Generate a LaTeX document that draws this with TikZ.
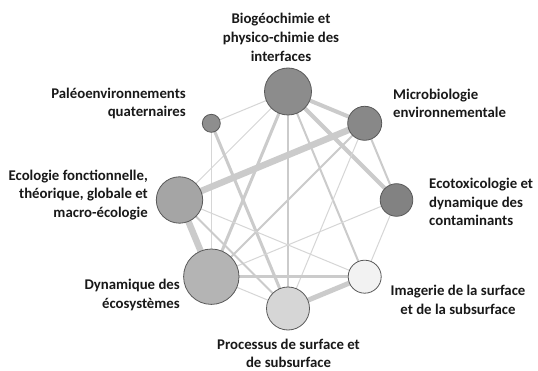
\documentclass[tikz,border=0pt]{standalone}
\usepackage{fontspec}
\setmainfont{Carlito}
\begin{document}
\begin{tikzpicture}[x=1pt,y=-1pt,
  disc/.style={circle, draw=black!65, line width=0.8pt, inner sep=0pt},
  lbl/.style={font=\bfseries\fontsize{14.8}{18.7}\selectfont, text=black!90, inner sep=0pt},
  link/.style={draw=linkgray, line cap=butt},
  w1/.style={link, line width=1pt, draw=linklight},
  w2/.style={link, line width=2pt},
  w3/.style={link, line width=3pt},
  w4/.style={link, line width=4pt},
  w5/.style={link, line width=5pt},
  w6/.style={link, line width=6.5pt}]
\definecolor{linkgray}{HTML}{CBCBCB}
\definecolor{linklight}{HTML}{D6D6D6}
\definecolor{cB}{HTML}{8C8C8C}
\definecolor{cM}{HTML}{888888}
\definecolor{cT}{HTML}{828282}
\definecolor{cP}{HTML}{8E8E8E}
\definecolor{cF}{HTML}{A5A5A5}
\definecolor{cD}{HTML}{B4B4B4}
\definecolor{cS}{HTML}{D6D6D6}
\definecolor{cI}{HTML}{F2F2F2}
\useasboundingbox (0,0) rectangle (538,371);
\fill[white] (0,0) rectangle (538,371);
% centres
\coordinate (pB) at (288,91.5);
\coordinate (pM) at (364.7,123.3);
\coordinate (pT) at (396.5,200);
\coordinate (pI) at (364.7,276.7);
\coordinate (pS) at (288,308.5);
\coordinate (pD) at (211.3,276.7);
\coordinate (pF) at (179.5,200);
\coordinate (pP) at (211.3,123.3);
% links
\draw[w1] (pB) -- (pP);
\draw[w4] (pB) -- (pM);
\draw[w4] (pB) -- (pT);
\draw[w1] (pB) -- (pF);
\draw[w3] (pB) -- (pD);
\draw[w2] (pB) -- (pS);
\draw[w2] (pB) -- (pI);
\draw[w1] (pP) -- (pD);
\draw[w3] (pP) -- (pS);
\draw[w6] (pM) -- (pF);
\draw[w2] (pM) -- (pD);
\draw[w2] (pM) -- (pT);
\draw[w1] (pM) -- (pS);
\draw[w1] (pT) -- (pD);
\draw[w1] (pT) -- (pI);
\draw[w6] (pF) -- (pD);
\draw[w2] (pF) -- (pS);
\draw[w1] (pF) -- (pI);
\draw[w3] (pD) -- (pI);
\draw[w1] (pD) -- (pS);
\draw[w5] (pS) -- (pI);
% discs
\node[disc, fill=cB, minimum size=47pt] (B) at (pB) {};
\node[disc, fill=cM, minimum size=34pt] (M) at (pM) {};
\node[disc, fill=cT, minimum size=32.6pt] (T) at (pT) {};
\node[disc, fill=cI, minimum size=33pt] (I) at (pI) {};
\node[disc, fill=cS, minimum size=43pt] (S) at (pS) {};
\node[disc, fill=cD, minimum size=55.4pt] (D) at (pD) {};
\node[disc, fill=cF, minimum size=46.4pt] (F) at (pF) {};
\node[disc, fill=cP, minimum size=18pt] (P) at (pP) {};
% labels
\node[lbl, align=center] (lB) at (281,37.5) {Biogéochimie et\\physico-chimie des\\interfaces};
\node[lbl, align=right, anchor=east] (lP) at (186,103.5) {Paléoenvironnements\\quaternaires};
\node[lbl, align=left, anchor=west] (lM) at (393,103.5) {Microbiologie\\environnementale};
\node[lbl, align=right, anchor=east] (lF) at (148,195) {Ecologie fonctionnelle,\\théorique, globale et\\macro-écologie};
\node[lbl, align=right, anchor=east] (lD) at (180,295) {Dynamique des\\écosystèmes};
\node[lbl, align=left, anchor=west] (lT) at (429,202) {Ecotoxicologie et\\dynamique des\\contaminants};
\node[lbl, align=center] (lI) at (458,300) {Imagerie de la surface\\et de la subsurface};
\node[lbl, align=center] (lS) at (288.5,353.5) {Processus de surface et\\de subsurface};
\end{tikzpicture}
\end{document}
